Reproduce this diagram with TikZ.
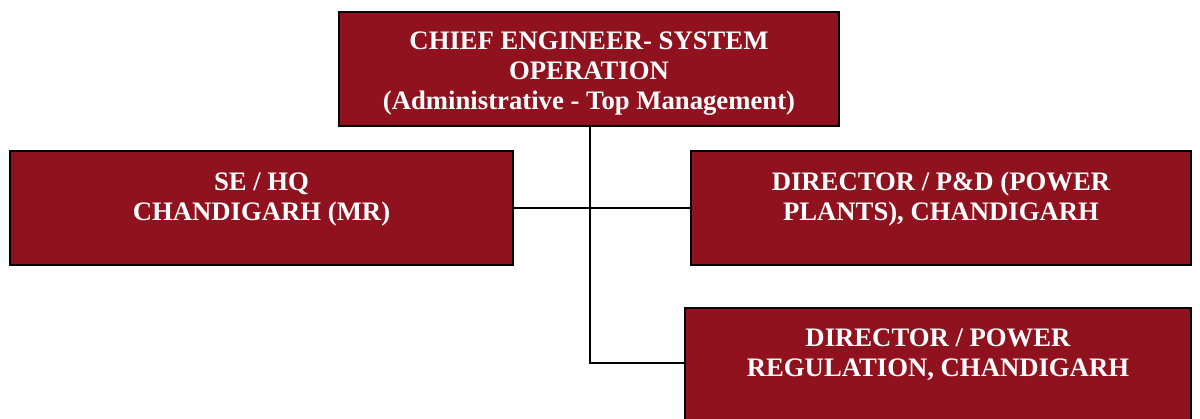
\documentclass[tikz,border=0pt]{standalone}
\usepackage{fontspec}
\setmainfont{Liberation Serif}
\definecolor{boxred}{RGB}{143,18,30}
\begin{document}
\begin{tikzpicture}[x=1pt,y=-1pt,
  orgbox/.style={draw=black,line width=1.6pt,fill=boxred,inner sep=0pt},
  orgtext/.style={text=white,font=\bfseries\fontsize{26.7}{30}\selectfont,align=center,inner sep=0pt},
  link/.style={draw=black,line width=1.4pt}]
\useasboundingbox (0,0) rectangle (1200,418);
\clip (0,0) rectangle (1200,418);
\node[orgbox,minimum width=500pt,minimum height=114pt] (top) at (589,69) {};
\node[orgbox,minimum width=503pt,minimum height=114pt] (se) at (261.5,208) {};
\node[orgbox,minimum width=500pt,minimum height=114pt] (dpd) at (941,208) {};
\node[orgbox,minimum width=506pt,minimum height=114pt] (dpr) at (938,365) {};
\node[orgtext] (toptext) at (589,74) {CHIEF ENGINEER- SYSTEM\\OPERATION\\(Administrative - Top Management)};
\node[orgtext] (setext) at (261.5,199) {SE / HQ\\CHANDIGARH (MR)};
\node[orgtext] (dpdtext) at (941,199) {DIRECTOR / P\&D (POWER\\PLANTS), CHANDIGARH};
\node[orgtext] (dprtext) at (938,355) {DIRECTOR / POWER\\REGULATION, CHANDIGARH};
\coordinate (bend) at (590,363);
\draw[link] (se.east) -- (dpd.west);
\draw[link] (top.south -| bend) -- (bend) -- (bend -| dpr.west);
\end{tikzpicture}
\end{document}
